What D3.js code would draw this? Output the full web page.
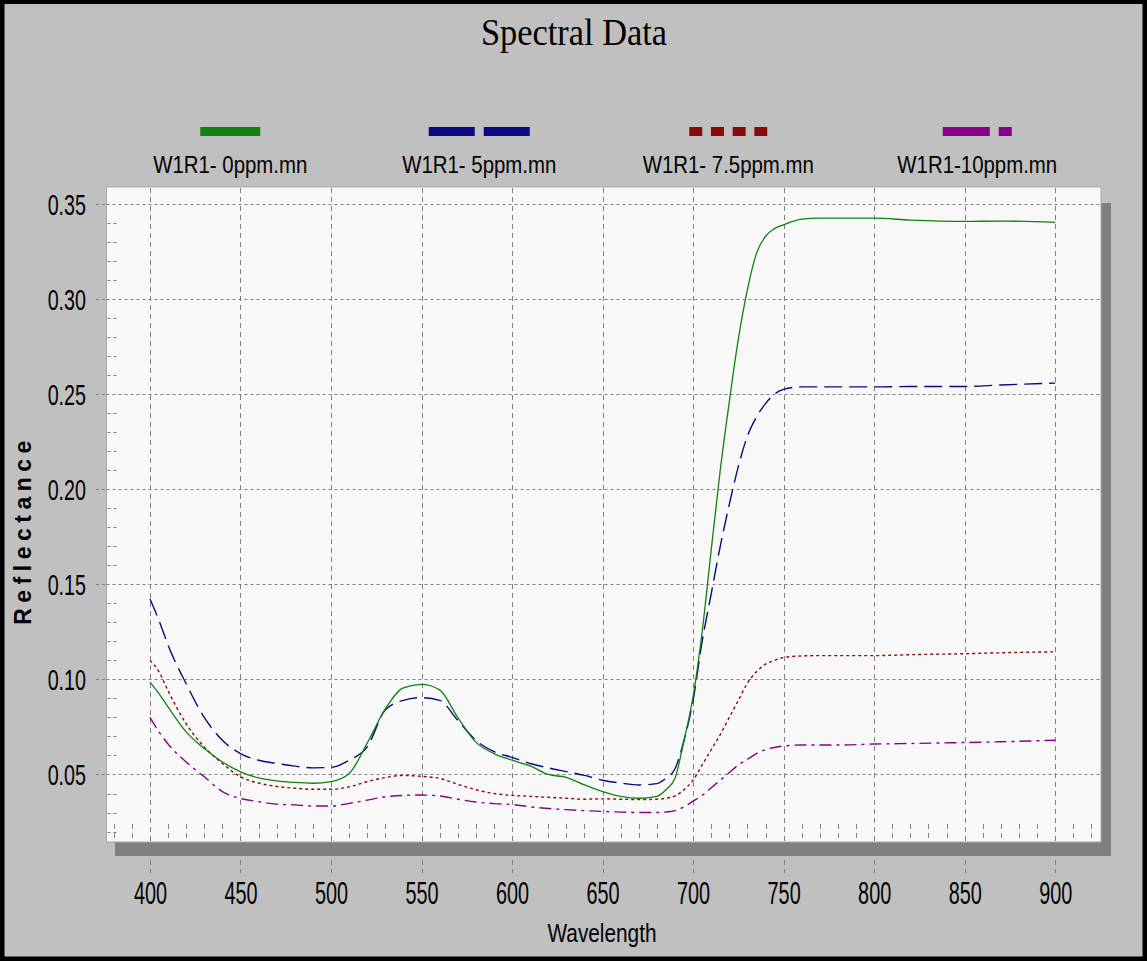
<!DOCTYPE html>
<html>
<head>
<meta charset="utf-8">
<script src="https://cdn.jsdelivr.net/npm/d3@7/dist/d3.min.js"></script>
<style>
html,body{margin:0;padding:0;background:#000;}
svg{display:block;}
</style>
</head>
<body>
<svg id="chart" width="1147" height="961"></svg>
<script>
// ---------------- DATA ----------------
const wavelengths = [400,405,410,420,430,440,450,460,470,480,490,500,510,520,530,540,550,560,570,580,590,600,610,620,630,640,650,660,670,680,685,690,695,700,705,710,715,720,725,730,735,740,745,750,760,770,780,800,820,850,870,900];

const seriesNames = ["W1R1- 0ppm.mn", "W1R1- 5ppm.mn", "W1R1- 7.5ppm.mn", "W1R1-10ppm.mn"];

const values0ppm = [0.0986,0.0925,0.0855,0.0724,0.0636,0.0566,0.0514,0.0482,0.0466,0.0458,0.0454,0.0462,0.0505,0.0665,0.0845,0.0955,0.0974,0.0945,0.0800,0.0670,0.0610,0.0575,0.0545,0.0500,0.0485,0.0445,0.0410,0.0385,0.0375,0.0385,0.0420,0.0480,0.0680,0.0910,0.1250,0.1680,0.2100,0.2460,0.2790,0.3050,0.3240,0.3330,0.3370,0.3390,0.3420,0.3425,0.3425,0.3425,0.3415,0.3408,0.3410,0.3403];

const values5ppm = [0.1423,0.1310,0.1180,0.0977,0.0800,0.0680,0.0610,0.0575,0.0558,0.0544,0.0535,0.0537,0.0575,0.0645,0.0840,0.0890,0.0904,0.0890,0.0785,0.0680,0.0620,0.0590,0.0558,0.0535,0.0515,0.0495,0.0470,0.0455,0.0445,0.0452,0.0480,0.0530,0.0680,0.0890,0.1200,0.1450,0.1700,0.1920,0.2120,0.2280,0.2380,0.2450,0.2500,0.2525,0.2538,0.2538,0.2538,0.2538,0.2540,0.2540,0.2548,0.2558];

const values75ppm = [0.1100,0.1040,0.0940,0.0767,0.0645,0.0558,0.0488,0.0455,0.0437,0.0428,0.0422,0.0422,0.0435,0.0462,0.0484,0.0495,0.0490,0.0480,0.0448,0.0420,0.0400,0.0390,0.0385,0.0380,0.0375,0.0370,0.0372,0.0370,0.0368,0.0370,0.0375,0.0387,0.0420,0.0470,0.0550,0.0630,0.0710,0.0800,0.0890,0.0980,0.1040,0.1080,0.1100,0.1115,0.1123,0.1125,0.1125,0.1125,0.1130,0.1135,0.1140,0.1145];

const values10ppm = [0.0800,0.0724,0.0660,0.0566,0.0488,0.0410,0.0374,0.0357,0.0344,0.0340,0.0334,0.0334,0.0348,0.0365,0.0383,0.0390,0.0392,0.0387,0.0370,0.0355,0.0347,0.0342,0.0330,0.0321,0.0315,0.0310,0.0306,0.0302,0.0300,0.0300,0.0303,0.0310,0.0330,0.0360,0.0390,0.0430,0.0470,0.0510,0.0550,0.0580,0.0610,0.0630,0.0642,0.0650,0.0655,0.0655,0.0655,0.0660,0.0663,0.0668,0.0672,0.0680];

const xTicks = [400,450,500,550,600,650,700,750,800,850,900];
const yTicks = [0.05,0.10,0.15,0.20,0.25,0.30,0.35];
const yTickLabels = ["0.05","0.10","0.15","0.20","0.25","0.30","0.35"];
const xMinorTicks = d3.range(380, 921, 10).filter(v => v % 50 !== 0);
const yMinorTicks = d3.range(2, 35).filter(v => v % 5 !== 0).map(v => v / 100);

// ---------------- STYLE ----------------
const colors = ["#118211", "#0a0a80", "#8a0a0a", "#880088"];
const lineDash = [null, "18,7", "3,3", "12,5,3,5"];
const legendDash = [null, "46,9", "13,8.7", "47,9,13,0"];
const legendLen = [60, 101, 78, 69];

const W = 1147, H = 961;
const plot = {left: 106.5, right: 1101, top: 187, bottom: 842};

const svg = d3.select("#chart");

// frame
svg.append("rect").attr("x",0).attr("y",0).attr("width",W).attr("height",H).attr("fill","#000");
svg.append("rect").attr("x",4.5).attr("y",4).attr("width",W-9).attr("height",H-8.5).attr("fill","#c0c0c0");

const x = d3.scaleLinear().domain([376, 925.3]).range([plot.left, plot.right]);
const y = d3.scaleLinear().domain([0.0145, 0.3589]).range([plot.bottom, plot.top]);

// outer grid extensions (behind shadow)
const xAxis = d3.axisBottom(x).tickValues(xTicks).tickSize(0).tickFormat(d => d);
svg.append("g").selectAll("line.vx").data(xTicks).join("line")
  .attr("x1", d => Math.round(x(d)) + 0.5).attr("x2", d => Math.round(x(d)) + 0.5)
  .attr("y1", plot.bottom).attr("y2", 873)
  .attr("stroke", "#808080").attr("stroke-dasharray", "5,4");
svg.append("g").selectAll("line.hy").data(yTicks).join("line")
  .attr("x1", 96).attr("x2", plot.left)
  .attr("y1", d => Math.round(y(d)) + 0.5).attr("y2", d => Math.round(y(d)) + 0.5)
  .attr("stroke", "#808080").attr("stroke-dasharray", "3,3");

// shadow
svg.append("rect").attr("x", 115).attr("y", 203).attr("width", 1111 - 115).attr("height", 856 - 203).attr("fill", "#808080");

// plot bg
svg.append("rect").attr("x", plot.left).attr("y", plot.top)
  .attr("width", plot.right - plot.left).attr("height", plot.bottom - plot.top)
  .attr("fill", "#f8f8f8").attr("stroke", "#a8a8a8").attr("stroke-width", 1);

// gridlines
const grid = svg.append("g");
grid.selectAll("line.gx").data(xTicks).join("line")
  .attr("x1", d => Math.round(x(d)) + 0.5).attr("x2", d => Math.round(x(d)) + 0.5)
  .attr("y1", plot.top + 1).attr("y2", plot.bottom)
  .attr("stroke", "#808080").attr("stroke-dasharray", "5,4");
grid.selectAll("line.gy").data(yTicks).join("line")
  .attr("x1", plot.left).attr("x2", plot.right)
  .attr("y1", d => Math.round(y(d)) + 0.5).attr("y2", d => Math.round(y(d)) + 0.5)
  .attr("stroke", "#808080").attr("stroke-dasharray", "3,3");
grid.selectAll("line.mx").data(xMinorTicks).join("line")
  .attr("x1", d => Math.round(x(d)) + 0.5).attr("x2", d => Math.round(x(d)) + 0.5)
  .attr("y1", 824).attr("y2", plot.bottom)
  .attr("stroke", "#808080").attr("stroke-dasharray", "5,4");
grid.selectAll("line.my").data(yMinorTicks).join("line")
  .attr("x1", plot.left + 1).attr("x2", plot.left + 11)
  .attr("y1", d => Math.round(y(d)) + 0.5).attr("y2", d => Math.round(y(d)) + 0.5)
  .attr("stroke", "#808080").attr("stroke-dasharray", "3,3");

// axes labels (tick text) via d3 axes
const fontSans = "'Liberation Sans', Arial, sans-serif";
const gx = svg.append("g").attr("transform", `translate(0,${plot.bottom})`).call(xAxis);
gx.select(".domain").remove();
gx.selectAll(".tick text").each(function(d){
  d3.select(this).attr("y", 0).attr("dy", 0)
    .attr("transform", `translate(0,62) scale(0.64,1)`)
    .attr("font-family", fontSans).attr("font-size", 31).attr("fill", "#000");
});

const yAxis = d3.axisLeft(y).tickValues(yTicks).tickSize(0).tickFormat((d,i) => yTickLabels[i]);
const gy = svg.append("g").attr("transform", `translate(86,0)`).call(yAxis);
gy.select(".domain").remove();
gy.selectAll(".tick text").each(function(d){
  d3.select(this).attr("x", 0).attr("dy", 0)
    .attr("transform", `translate(0,10.5) scale(0.68,1)`)
    .attr("font-family", fontSans).attr("font-size", 29).attr("fill", "#000").attr("text-anchor","end");
});

// curves
const seriesValues = [values0ppm, values5ppm, values75ppm, values10ppm];
const lineGen = d3.line().x(d => x(d[0])).y(d => y(d[1])).curve(d3.curveMonotoneX);
const clip = svg.append("clipPath").attr("id","clip").append("rect")
  .attr("x", plot.left).attr("y", plot.top).attr("width", plot.right - plot.left).attr("height", plot.bottom - plot.top);
const curves = svg.append("g").attr("clip-path", "url(#clip)");
// draw in reverse so green is on top
[3,2,1,0].forEach(i => {
  const pts = wavelengths.map((w, j) => [w, seriesValues[i][j]]);
  curves.append("path").datum(pts)
    .attr("d", lineGen)
    .attr("fill", "none")
    .attr("stroke", colors[i])
    .attr("stroke-width", i === 0 ? 1.3 : 1.4)
    .attr("stroke-dasharray", lineDash[i]);
});

// title
svg.append("text").attr("transform", "translate(574,45) scale(0.93,1)").attr("text-anchor", "middle")
  .attr("font-family", "'Liberation Serif', 'Times New Roman', serif")
  .attr("font-size", 37).attr("fill", "#000").text("Spectral Data");

// legend
const plotCenter = (plot.left + plot.right) / 2;
const legendStep = 249;
seriesNames.forEach((name, i) => {
  const cx = plotCenter + (i - 1.5) * legendStep;
  svg.append("line")
    .attr("x1", cx - legendLen[i] / 2).attr("x2", cx + legendLen[i] / 2)
    .attr("y1", 131.5).attr("y2", 131.5)
    .attr("stroke", colors[i]).attr("stroke-width", 9)
    .attr("stroke-dasharray", legendDash[i]);
  svg.append("text")
    .attr("transform", `translate(${cx},173) scale(0.85,1)`)
    .attr("text-anchor", "middle")
    .attr("font-family", fontSans).attr("font-size", 24).attr("fill", "#000")
    .text(name);
});

// axis titles
svg.append("text")
  .attr("transform", `translate(602,942) scale(0.8,1)`)
  .attr("text-anchor", "middle")
  .attr("font-family", fontSans).attr("font-size", 26).attr("fill", "#000")
  .text("Wavelength");

svg.append("text")
  .attr("transform", `translate(31,530) rotate(-90)`)
  .attr("text-anchor", "middle")
  .attr("font-family", fontSans).attr("font-weight", "bold")
  .attr("font-size", 23).attr("letter-spacing", 5.5).attr("fill", "#000")
  .text("Reflectance");
</script>
</body>
</html>
